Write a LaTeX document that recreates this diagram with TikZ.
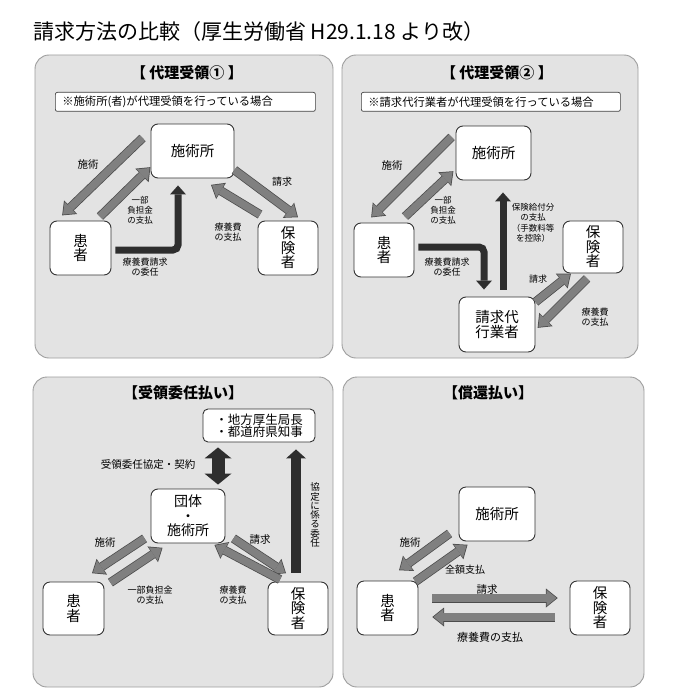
\documentclass[tikz,border=0pt]{standalone}
\usepackage{fontspec}
\setmainfont{Noto Sans CJK JP}
\usetikzlibrary{arrows.meta}

\begin{document}
\begin{tikzpicture}[x=1pt,y=-1pt,
  panel/.style={draw=black!38, fill=black!11, rounded corners=14pt, line width=0.9pt},
  box/.style={draw=black!80, fill=white, rounded corners=7pt, line width=0.9pt, align=center, inner sep=0pt,
    minimum width=61pt, minimum height=54pt, font=\fontsize{14.5}{14.5}\selectfont},
  note/.style={draw=black!75, fill=white, rounded corners=2pt, line width=0.7pt, anchor=north west,
    minimum height=19pt, inner xsep=7pt, inner ysep=0pt, align=left, font=\fontsize{11.3}{12}\selectfont},
  hd/.style={font=\bfseries\fontsize{15}{16}\selectfont},
  lab/.style={align=center, inner sep=0pt, font=\fontsize{8.5}{10}\selectfont},
  labl/.style={lab, font=\fontsize{10.5}{12}\selectfont},
  gar/.style={draw=black!50, line width=7.5pt, -{Triangle[width=16pt,length=10pt,line width=0pt]},
    preaction={draw=black!70, line width=9pt, shorten >=-1.2pt, -{Triangle[width=19pt,length=11.8pt,line width=0pt]}}},
  dar/.style={draw=black!82, line width=7pt, -{Triangle[width=16pt,length=9pt,line width=0pt]}}]
\fill[white] (0,0) rectangle (675,698);
\useasboundingbox (0,0) rectangle (675,698);

% panels
\draw[panel] (35,55) rectangle (333,358);
\draw[panel] (342,55) rectangle (638,358);
\draw[panel] (33,377) rectangle (333,687);
\draw[panel] (343,377) rectangle (644,687);

\node[anchor=west, inner sep=0pt, font=\fontsize{21}{22}\selectfont] (ttl) at (33,32) {請求方法の比較（厚生労働省 H29.1.18 より改）};

% dairi 1
\node[hd] (hd1) at (187,73) {【 代理受領① 】};
\node[note, minimum width=260pt, text width=246pt] (nt1) at (55,92) {※施術所(者)が代理受領を行っている場合};
\node[box, minimum width=83pt] (sej1) at (192.5,151) {施術所};
\node[box] (kan1) at (80.5,248) {患\\者};
\node[box, minimum width=60pt] (hok1) at (288,248) {保\\険\\者};
\draw[gar] ([shift={(-8,-13)}]sej1.west) -- ([shift={(-17.5,-6)}]kan1.north);
\draw[gar] ([shift={(19.5,-4)}]kan1.north) -- ([shift={(-1,17)}]sej1.west);
\draw[gar] ([shift={(0,19)}]sej1.east) -- ([shift={(9,-4)}]hok1.north);
\draw[gar] ([shift={(-28,-6)}]hok1.north) -- ([shift={(19.5,7)}]sej1.south);
\draw[dar, rounded corners=5pt] ([shift={(4,2)}]kan1.east) -| ([shift={(-14.5,7)}]sej1.south);
\node[labl] (st1) at (88,165) {施術};
\node[lab] (ich1) at (140,210) {一部\\負担金\\の支払};
\node[labl, font=\fontsize{10}{12}\selectfont] (sk1) at (282,182) {請求};
\node[lab, font=\fontsize{9}{10}\selectfont] (ry1) at (228,232) {療養費\\の支払};
\node[lab, font=\fontsize{9}{10.5}\selectfont] (in1) at (145,267) {療養費請求\\の委任};

% dairi 2
\node[hd] (hd2) at (497,73) {【 代理受領② 】};
\node[note, minimum width=259pt, text width=245pt] (nt2) at (361,92) {※請求代行業者が代理受領を行っている場合};
\node[box, minimum width=75pt] (sej2) at (493.5,153) {施術所};
\node[box, minimum width=60pt] (kan2) at (384,250) {患\\者};
\node[box, minimum width=60pt, minimum height=52pt] (hok2) at (593,247) {保\\険\\者};
\node[box, minimum width=76pt, minimum height=55pt] (dai2) at (497,324.5) {請求代\\行業者};
\draw[gar] ([shift={(-4,-16)}]sej2.west) -- ([shift={(-12,-6)}]kan2.north);
\draw[gar] ([shift={(21,-6)}]kan2.north) -- ([shift={(-3,19)}]sej2.west);
\draw[dar, rounded corners=5pt] ([shift={(4,-3)}]kan2.east) -| ([shift={(-13,-7)}]dai2.north);
\draw[dar] ([shift={(6,-7)}]dai2.north) -- ([shift={(9.5,12)}]sej2.south);
\draw[gar] ([shift={(0,-22.5)}]dai2.east) -- ([shift={(-23,1)}]hok2.south);
\draw[gar] ([shift={(-6,5)}]hok2.south) -- ([shift={(3,2.5)}]dai2.east);
\node[labl] (st2) at (392,166) {施術};
\node[lab] (ich2) at (443,210) {一部\\負担金\\の支払};
\node[lab, font=\fontsize{9}{10.5}\selectfont] (in2) at (447,267) {療養費請求\\の委任};
\node[lab, font=\fontsize{8.5}{10.4}\selectfont] (kyu2) at (533,223) {保険給付分\\の支払\\（手数料等\\を控除）};
\node[lab, font=\fontsize{9}{10}\selectfont] (sk2) at (538,279) {請求};
\node[lab, font=\fontsize{9}{10}\selectfont] (ry2) at (595,317) {療養費\\の支払};

% juryo inin
\node[hd] (hd3) at (183,393) {【受領委任払い】};
\node[box, minimum width=112pt, minimum height=33pt, rounded corners=5pt, font=\fontsize{12.5}{12.5}\selectfont] (chi3) at (259,425.5) {・地方厚生局長\\・都道府県知事};
\node[box, minimum width=74pt, font=\fontsize{14}{14.5}\selectfont] (dan3) at (188,516) {団体\\・\\施術所};
\node[box, minimum height=53pt] (kan3) at (73.5,608.5) {患\\者};
\node[box, minimum width=60pt, minimum height=53pt] (hok3) at (298,608.5) {保\\険\\者};
\draw[dar, line width=13pt, {Triangle[width=27pt,length=11pt,line width=0pt]}-{Triangle[width=27pt,length=11pt,line width=0pt]}]
  ([shift={(-41,5)}]chi3.south) -- ([shift={(30,-4)}]dan3.north);
\draw[dar, line width=10pt, -{Triangle[width=20pt,length=9pt,line width=0pt]}] ([shift={(-2,-9)}]hok3.north) -- ([shift={(37,7)}]chi3.south);
\draw[gar] ([shift={(-6,-5)}]dan3.south west) -- ([shift={(19.5,-9)}]kan3.north);
\draw[gar] ([shift={(6,1)}]kan3.north east) -- ([shift={(11,5)}]dan3.south west);
\draw[gar] ([shift={(8,-5)}]dan3.south east) -- ([shift={(-13,-9)}]hok3.north);
\draw[gar] ([shift={(-18,-2)}]hok3.north) -- ([shift={(-10,2)}]dan3.south east);
\node[labl] (kyo3) at (148,465) {受領委任協定・契約};
\node[labl] (st3) at (105,543) {施術};
\node[lab, font=\fontsize{9}{10}\selectfont] (ich3) at (150,595) {一部負担金\\の支払};
\node[labl] (sk3) at (260,540) {請求};
\node[lab, font=\fontsize{9}{10}\selectfont] (ry3) at (233,595) {療養費\\の支払};
\node[lab, font=\fontsize{9.5}{9.3}\selectfont] (iin3) at (315,515) {協\\定\\に\\係\\る\\委\\任};

% shokan
\node[hd] (hd4) at (488,393) {【償還払い】};
\node[box, minimum width=76pt] (sej4) at (497,514) {施術所};
\node[box] (kan4) at (387.5,608) {患\\者};
\node[box, minimum width=60pt] (hok4) at (600,608) {保\\険\\者};
\draw[gar] ([shift={(-9,-8)}]sej4.south west) -- ([shift={(12.5,-11)}]kan4.north);
\draw[gar] ([shift={(-3,1)}]kan4.north east) -- ([shift={(8,4)}]sej4.south west);
\draw[gar] ([shift={(14,-10)}]kan4.east) -- ([shift={(-13,-10)}]hok4.west);
\draw[gar] ([shift={(-15,9)}]hok4.west) -- ([shift={(15,9)}]kan4.east);
\node[labl] (st4) at (410,543) {施術};
\node[labl, font=\fontsize{10}{12}\selectfont] (zen4) at (465,570) {全額支払};
\node[labl] (sk4) at (487,590) {請求};
\node[labl, font=\fontsize{11}{12}\selectfont] (ry4) at (490,637) {療養費の支払};
\end{tikzpicture}
\end{document}
